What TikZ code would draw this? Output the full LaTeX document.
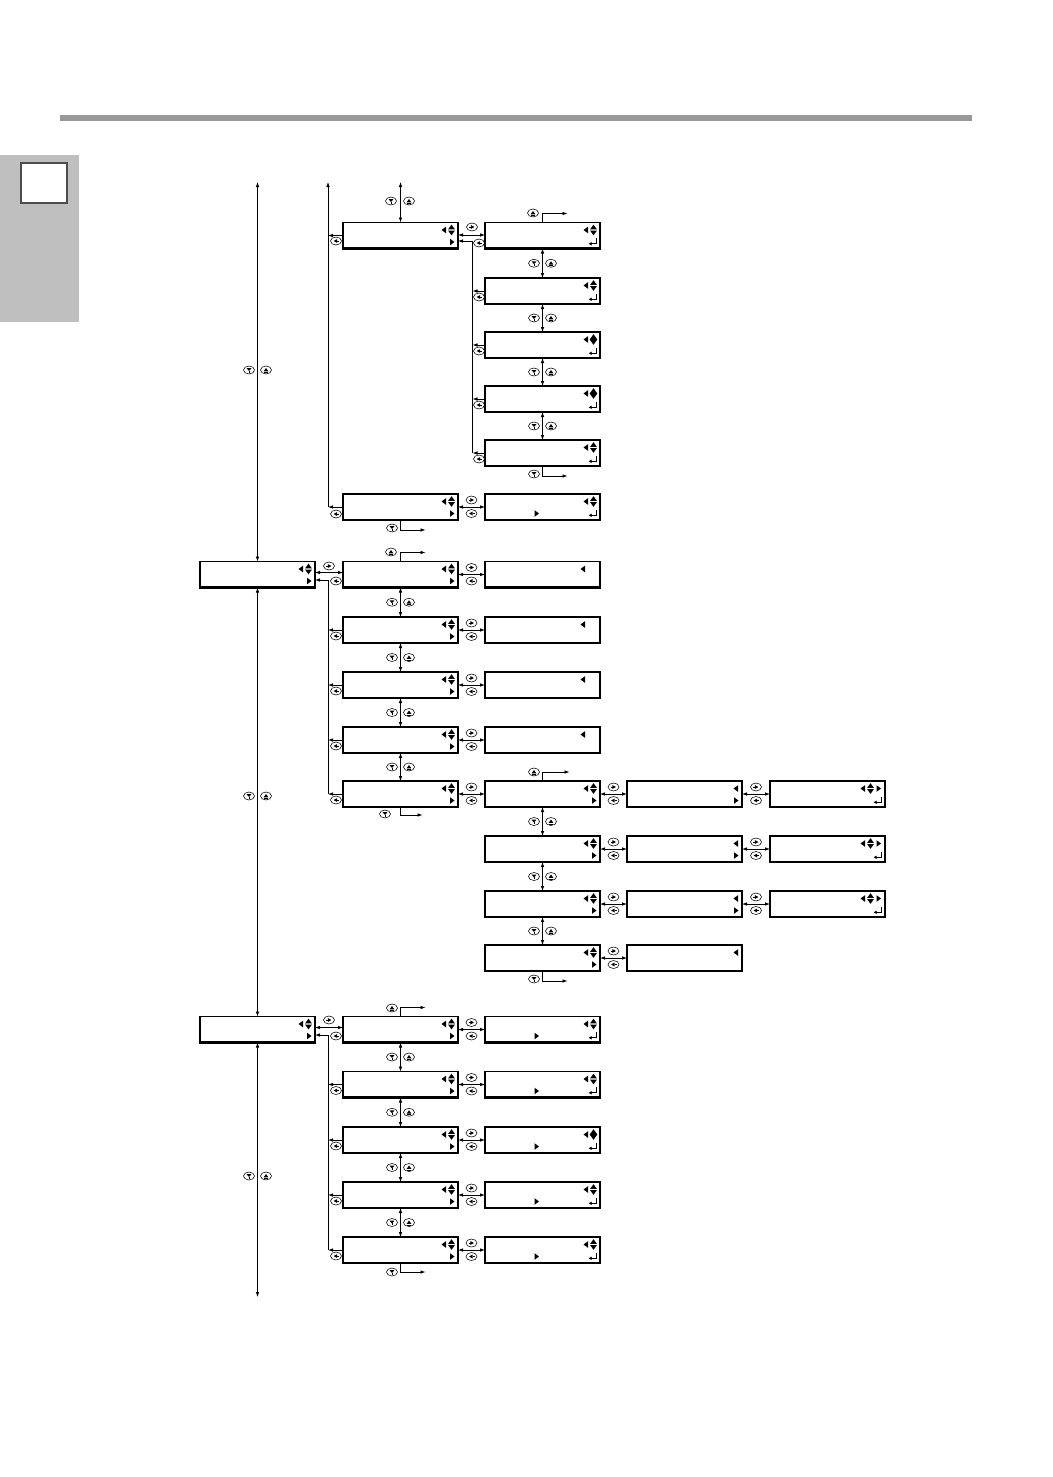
\documentclass[tikz,border=0pt]{standalone}
\usetikzlibrary{arrows.meta,calc}
\tikzset{
  x=1pt,y=-1pt,
  lcd/.style={draw,line width=1.4pt,minimum width=115pt,minimum height=26pt,inner sep=0pt,outer sep=0pt},
  con/.style={line width=0.8pt},
  arr/.style={con,-{Latex[length=5pt,width=3.6pt]}},
  dbl/.style={con,{Latex[length=5pt,width=3.6pt]}-{Latex[length=5pt,width=3.6pt]}},
  kb/.style={line width=0.55pt},
  pics/lt/.style={code={\fill (2,-3.3) -- (2,3.3) -- (-2.5,0) -- cycle;}},
  pics/rt/.style={code={\fill (-2,-3.3) -- (-2,3.3) -- (2.5,0) -- cycle;}},
  pics/ud/.style={code={\fill (0,-5.3) -- (-3.4,-0.6) -- (3.4,-0.6) -- cycle;
                         \fill (0,5.3) -- (-3.4,0.6) -- (3.4,0.6) -- cycle;}},
  pics/dm/.style={code={\fill (0,-5.3) -- (3.8,0) -- (0,5.3) -- (-3.8,0) -- cycle;}},
  pics/ent/.style={code={\draw[line width=0.9pt,-{Latex[length=3.2pt,width=3.8pt]}] (3,-4) -- (3,1.8) -- (-4.5,1.8);}},
  pics/kdn/.style={code={\draw[kb] (0,0) ellipse (5.5pt and 4pt);
      \fill (-2.4,-1.8) -- (2.4,-1.8) -- (0,1.0) -- cycle; \draw[line width=0.5pt] (0,0.5) -- (0,2.6);}},
  pics/kup/.style={code={\draw[kb] (0,0) ellipse (5.5pt and 4pt);
      \fill (-2.4,1.4) -- (2.4,1.4) -- (0,-2.0) -- cycle; \draw[line width=0.5pt] (-2.4,2.3) -- (2.4,2.3);}},
  pics/krt/.style={code={\draw[kb] (0,0) ellipse (5.5pt and 4pt);
      \fill (-1.2,-2) -- (-1.2,2) -- (2.4,0) -- cycle; \draw[line width=0.5pt] (-3,0) -- (-1,0);}},
  pics/klt/.style={code={\draw[kb] (0,0) ellipse (5.5pt and 4pt);
      \fill (1.2,-2) -- (1.2,2) -- (-2.4,0) -- cycle; \draw[line width=0.5pt] (3,0) -- (1,0);}},
}
\newcommand\icLU[1]{\pic at ([xshift=-14pt,yshift=5.5pt]#1.east) {lt}; \pic at ([xshift=-6.5pt,yshift=5.5pt]#1.east) {ud};}
\newcommand\icLD[1]{\pic at ([xshift=-14pt,yshift=5.5pt]#1.east) {lt}; \pic at ([xshift=-6.5pt,yshift=5.5pt]#1.east) {dm};}
\newcommand\icR[1]{\pic at ([xshift=-6pt,yshift=-6.5pt]#1.east) {rt};}
\newcommand\icE[1]{\pic at ([xshift=-7pt,yshift=-6.5pt]#1.east) {ent};}
\newcommand\icM[1]{\pic at ([xshift=-6pt,yshift=-6.5pt]#1.center) {rt};}
\newcommand\icL[2]{\pic at ([xshift=-#2pt,yshift=5.5pt]#1.east) {lt};}
\newcommand\icLUR[1]{\pic at ([xshift=-22pt,yshift=5.5pt]#1.east) {lt}; \pic at ([xshift=-14.5pt,yshift=5.5pt]#1.east) {ud}; \pic at ([xshift=-6.5pt,yshift=5.5pt]#1.east) {rt};}
\newcommand\vkeys[2]{\pic at ($(#1.south)!.5!(#2.north)+(-8.5,0)$) {kdn}; \pic at ($(#1.south)!.5!(#2.north)+(8.5,0)$) {kup};}
\newcommand\hkeys[2]{\pic at ($(#1.east)!.5!(#2.west)+(0,-7)$) {krt}; \pic at ($(#1.east)!.5!(#2.west)+(0,6.5)$) {klt};}
\begin{document}
\begin{tikzpicture}
\useasboundingbox (0,0) rectangle (1052,1477);
% page decoration
\fill[gray!80] (60,115) rectangle (972,121);
\fill[gray!50] (0,155) rectangle (79,322);
\draw[line width=1.2pt,draw=black!70,fill=white] (21,163) rectangle (67,203);
% boxes
\foreach \n/\x/\y in {
  b1/400.5/235.5, c1/542.5/235.5, c2/542.5/291, c3/542.5/345, c4/542.5/399, c5/542.5/453,
  b2/400.5/507, c6/542.5/507,
  a1/257.5/574.5, b3/400.5/574.5, c7/542.5/574.5, b4/400.5/630, c8/542.5/630,
  b5/400.5/685, c9/542.5/685, b6/400.5/740, c10/542.5/740,
  b7/400.5/794, c11/542.5/794, d1/684.5/794, e1/827.5/794,
  c12/542.5/849, d2/684.5/849, e2/827.5/849,
  c13/542.5/904, d3/684.5/904, e3/827.5/904,
  c14/542.5/958, d4/684.5/958,
  a2/257.5/1029.5, b8/400.5/1029.5, c15/542.5/1029.5,
  b9/400.5/1084.5, c16/542.5/1084.5, b10/400.5/1140, c17/542.5/1140,
  b11/400.5/1195, c18/542.5/1195, b12/400.5/1250, c19/542.5/1250}{
  \node[lcd] (\n) at (\x,\y) {};
  \draw[line width=2.4pt] ([xshift=-0.7pt]\n.south west) -- ([xshift=0.7pt]\n.south east);
}
% icons
\foreach \n in {b1,b2,a1,a2,b3,b4,b5,b6,b7,b8,b9,b10,b11,b12,c11,c12,c13,c14}{\icLU{\n}\icR{\n}}
\foreach \n in {c1,c2,c5}{\icLU{\n}\icE{\n}}
\foreach \n in {c3,c4}{\icLD{\n}\icE{\n}}
\foreach \n in {c6,c15,c16,c18,c19}{\icLU{\n}\icM{\n}\icE{\n}}
\icLD{c17}\icM{c17}\icE{c17}
\foreach \n in {c7,c8,c9,c10}{\icL{\n}{17}}
\foreach \n in {d1,d2,d3}{\icL{\n}{6}\icR{\n}}
\icL{d4}{6}
\foreach \n in {e1,e2,e3}{\icLUR{\n}\icE{\n}}
% ---- main column A
\coordinate (mtop) at (257.5,182);
\coordinate (mbot) at (257.5,1297);
\draw[dbl] (mtop) -- (a1.north);
\pic at (249,370) {kdn}; \pic at (266,370) {kup};
\draw[dbl] (a1.south) -- (a2.north);
\pic at (249,796) {kdn}; \pic at (266,796) {kup};
\draw[dbl] (a2.south) -- (mbot);
\pic at (249,1176) {kdn}; \pic at (266,1176) {kup};
% ---- section 1
\coordinate (b1top) at (400.5,182);
\draw[dbl] (b1top) -- (b1.north);
\pic at (391,201) {kdn}; \pic at (409,201) {kup};
\coordinate (busA) at (328,182);
\draw[arr] (busA |- b2.west) -- (busA);
\draw[arr] (b1.west) -- (busA |- b1.west); \pic at (336,241) {klt};
\draw[arr] (b2.west) -- (busA |- b2.west); \pic at (336,514) {klt};
\draw[dbl] ([yshift=0.5pt]b1.east) -- ([yshift=0.5pt]c1.west); \pic at (472,227) {krt};
\coordinate (busB) at (472.5,241);
\draw[con] (busB) -- (busB |- c5.west);
\draw[arr] (busB) -- (busB -| b1.east); \pic at (479,243) {klt};
\foreach \n in {c2,c3,c4,c5}{\draw[arr] (\n.west) -- (busB |- \n.west); \pic at ($(\n.west)+(-6,6)$) {klt};}
\draw[arr] (c1.north) -- ++(0,-9) -- ++(25,0); \pic at (533,213) {kup};
\draw[dbl] (c1.south) -- (c2.north); \vkeys{c1}{c2}
\draw[dbl] (c2.south) -- (c3.north); \vkeys{c2}{c3}
\draw[dbl] (c3.south) -- (c4.north); \vkeys{c3}{c4}
\draw[dbl] (c4.south) -- (c5.north); \vkeys{c4}{c5}
\draw[arr] (c5.south) -- ++(0,10) -- ++(25,0); \pic at (534,474) {kdn};
\draw[arr] (b2.south) -- ++(0,10) -- ++(25,0); \pic at (392,528) {kdn};
\draw[dbl] (b2.east) -- (c6.west); \hkeys{b2}{c6}
% ---- section 2
\draw[dbl] ([yshift=2pt]a1.east) -- ([yshift=2pt]b3.west); \pic at (329,566) {krt};
\coordinate (busC) at (328,580);
\draw[con] (busC) -- (busC |- b7.west);
\draw[arr] (busC) -- (busC -| a1.east); \pic at (336,581) {klt};
\foreach \n in {b4,b5,b6,b7}{\draw[arr] (\n.west) -- (busC |- \n.west); \pic at ($(\n.west)+(-7,6)$) {klt};}
\draw[arr] (b3.north) -- ++(0,-9) -- ++(25,0); \pic at (391,552) {kup};
\draw[dbl] (b3.south) -- (b4.north); \vkeys{b3}{b4}
\draw[dbl] (b4.south) -- (b5.north); \vkeys{b4}{b5}
\draw[dbl] (b5.south) -- (b6.north); \vkeys{b5}{b6}
\draw[dbl] (b6.south) -- (b7.north); \vkeys{b6}{b7}
\draw[arr] (b7.south) -- ++(0,8) -- ++(22,0); \pic at (385,814) {kdn};
\draw[dbl] (b3.east) -- (c7.west); \hkeys{b3}{c7}
\draw[dbl] (b4.east) -- (c8.west); \hkeys{b4}{c8}
\draw[dbl] (b5.east) -- (c9.west); \hkeys{b5}{c9}
\draw[dbl] (b6.east) -- (c10.west); \hkeys{b6}{c10}
\draw[dbl] (b7.east) -- (c11.west); \hkeys{b7}{c11}
\draw[arr] (c11.north) -- ++(0,-9) -- ++(27,0); \pic at (534,772) {kup};
\draw[dbl] (c11.south) -- (c12.north); \vkeys{c11}{c12}
\draw[dbl] (c12.south) -- (c13.north); \vkeys{c12}{c13}
\draw[dbl] (c13.south) -- (c14.north); \vkeys{c13}{c14}
\draw[arr] (c14.south) -- ++(0,10) -- ++(25,0); \pic at (534,979) {kdn};
\draw[dbl] (c11.east) -- (d1.west); \hkeys{c11}{d1}
\draw[dbl] (c12.east) -- (d2.west); \hkeys{c12}{d2}
\draw[dbl] (c13.east) -- (d3.west); \hkeys{c13}{d3}
\draw[dbl] (c14.east) -- (d4.west); \hkeys{c14}{d4}
\draw[dbl] (d1.east) -- (e1.west); \hkeys{d1}{e1}
\draw[dbl] (d2.east) -- (e2.west); \hkeys{d2}{e2}
\draw[dbl] (d3.east) -- (e3.west); \hkeys{d3}{e3}
% ---- section 3
\draw[dbl] ([yshift=2pt]a2.east) -- ([yshift=2pt]b8.west); \pic at (329,1020) {krt};
\coordinate (busD) at (328,1035);
\draw[con] (busD) -- (busD |- b12.west);
\draw[arr] (busD) -- (busD -| a2.east); \pic at (336,1036) {klt};
\foreach \n in {b9,b10,b11,b12}{\draw[arr] (\n.west) -- (busD |- \n.west); \pic at ($(\n.west)+(-7,6)$) {klt};}
\draw[arr] (b8.north) -- ++(0,-9) -- ++(25,0); \pic at (392,1008) {kup};
\draw[dbl] (b8.south) -- (b9.north); \vkeys{b8}{b9}
\draw[dbl] (b9.south) -- (b10.north); \vkeys{b9}{b10}
\draw[dbl] (b10.south) -- (b11.north); \vkeys{b10}{b11}
\draw[dbl] (b11.south) -- (b12.north); \vkeys{b11}{b12}
\draw[arr] (b12.south) -- ++(0,9) -- ++(25,0); \pic at (392,1272) {kdn};
\draw[dbl] (b8.east) -- (c15.west); \hkeys{b8}{c15}
\draw[dbl] (b9.east) -- (c16.west); \hkeys{b9}{c16}
\draw[dbl] (b10.east) -- (c17.west); \hkeys{b10}{c17}
\draw[dbl] (b11.east) -- (c18.west); \hkeys{b11}{c18}
\draw[dbl] (b12.east) -- (c19.west); \hkeys{b12}{c19}
\end{tikzpicture}
\end{document}
